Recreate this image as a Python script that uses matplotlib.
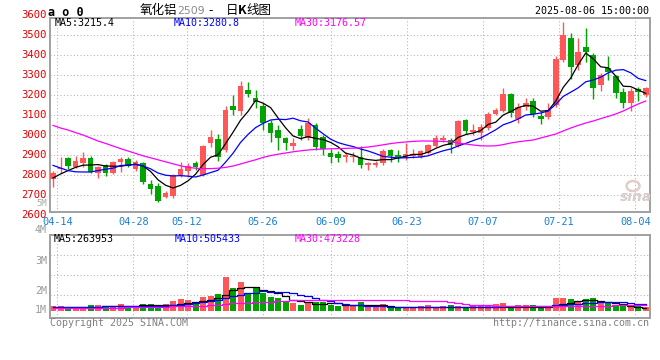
import matplotlib
matplotlib.use("Agg")
import matplotlib.pyplot as plt
from matplotlib.patches import Ellipse

W, H = 660, 360

# ao2509 daily bars 2025-04-11 .. 2025-08-06
OPEN = [2778, 2828, 2883, 2842, 2862, 2883, 2812, 2850, 2808, 2867,
        2880, 2830, 2862, 2755, 2745, 2688, 2695, 2800, 2822, 2858,
        2800, 2958, 2980, 2925, 3147, 3120, 3225, 3183, 3145, 3058,
        3025, 2983, 2945, 3028, 2985, 3050, 2988, 2912, 2905, 2888,
        2888, 2888, 2848, 2852, 2858, 2925, 2900, 2883, 2895, 2892,
        2912, 2947, 2975, 2975, 2947, 3075, 3017, 3012, 3033, 3105,
        3122, 3205, 3078, 3138, 3170, 3097, 3088, 3150, 3375, 3483,
        3350, 3438, 3400, 3250, 3337, 3295, 3217, 3158, 3228, 3200]
HIGH = [2820, 2890, 2888, 2895, 2917, 2897, 2845, 2855, 2870, 2892,
        2890, 2875, 2867, 2775, 2758, 2720, 2805, 2865, 2860, 2870,
        2950, 3025, 3005, 3145, 3200, 3272, 3267, 3225, 3162, 3075,
        3050, 2992, 2983, 3050, 3083, 3058, 3000, 2928, 2922, 2917,
        2917, 2945, 2867, 2872, 2928, 2928, 2925, 2958, 2928, 2925,
        2955, 3000, 3000, 2983, 3075, 3078, 3055, 3055, 3113, 3137,
        3233, 3212, 3158, 3183, 3183, 3117, 3158, 3395, 3567, 3512,
        3483, 3533, 3408, 3308, 3395, 3300, 3233, 3233, 3242, 3242]
LOW = [2742, 2808, 2830, 2833, 2838, 2808, 2787, 2795, 2805, 2817,
       2840, 2820, 2755, 2705, 2665, 2683, 2683, 2792, 2790, 2825,
       2795, 2938, 2872, 2917, 3100, 3100, 3192, 3135, 3025, 2967,
       2925, 2925, 2925, 2975, 2975, 2925, 2900, 2858, 2867, 2867,
       2867, 2833, 2825, 2838, 2850, 2867, 2867, 2875, 2883, 2883,
       2905, 2942, 2967, 2908, 2942, 3005, 3000, 2975, 3025, 3100,
       3117, 3088, 3058, 3125, 3092, 3055, 3078, 3140, 3367, 3278,
       3325, 3367, 3180, 3222, 3275, 3183, 3133, 3122, 3172, 3188]
CLOSE = [2812, 2835, 2847, 2870, 2883, 2817, 2842, 2812, 2867, 2880,
         2845, 2867, 2767, 2730, 2672, 2708, 2800, 2830, 2845, 2838,
         2945, 2988, 2888, 3125, 3125, 3245, 3205, 3163, 3058, 3012,
         2985, 2962, 2958, 2995, 3062, 2940, 2928, 2892, 2883, 2900,
         2895, 2850, 2858, 2862, 2922, 2895, 2888, 2905, 2905, 2920,
         2950, 2983, 2983, 2950, 3072, 3022, 3025, 3042, 3105, 3125,
         3205, 3108, 3142, 3158, 3105, 3080, 3125, 3378, 3500, 3342,
         3417, 3413, 3233, 3300, 3317, 3212, 3158, 3222, 3217, 3233]

MA5 = [2785, 2805, 2822, 2838, 2849, 2850, 2852, 2845, 2844, 2844,
       2849, 2854, 2845, 2818, 2776, 2749, 2735, 2748, 2771, 2804,
       2852, 2889, 2901, 2957, 3014, 3074, 3118, 3173, 3159, 3137,
       3085, 3036, 2995, 2982, 2992, 2983, 2977, 2963, 2941, 2909,
       2900, 2884, 2877, 2873, 2877, 2877, 2885, 2894, 2903, 2903,
       2914, 2933, 2948, 2957, 2988, 3002, 3010, 3022, 3053, 3064,
       3100, 3117, 3137, 3148, 3144, 3119, 3122, 3169, 3238, 3285,
       3352, 3410, 3381, 3341, 3336, 3295, 3244, 3242, 3225, 3208]
MA10 = [2848, 2835, 2822, 2816, 2815, 2815, 2822, 2829, 2834, 2847,
        2850, 2853, 2845, 2831, 2810, 2799, 2795, 2797, 2794, 2790,
        2800, 2812, 2824, 2864, 2909, 2963, 3003, 3037, 3058, 3075,
        3079, 3077, 3084, 3071, 3065, 3034, 3006, 2979, 2962, 2951,
        2942, 2930, 2920, 2907, 2893, 2889, 2885, 2886, 2888, 2890,
        2896, 2909, 2921, 2930, 2945, 2958, 2972, 2985, 3005, 3026,
        3051, 3064, 3080, 3100, 3104, 3110, 3120, 3153, 3193, 3214,
        3236, 3266, 3275, 3289, 3311, 3324, 3327, 3311, 3283, 3272]
MA30 = [3048, 3035, 3025, 3012, 3000, 2985, 2970, 2958, 2945, 2932,
        2920, 2908, 2896, 2886, 2876, 2866, 2856, 2846, 2838, 2834,
        2832, 2832, 2834, 2838, 2845, 2855, 2866, 2876, 2888, 2897,
        2904, 2910, 2916, 2921, 2925, 2928, 2930, 2931, 2932, 2933,
        2934, 2936, 2940, 2945, 2951, 2957, 2962, 2965, 2968, 2970,
        2970, 2969, 2968, 2966, 2960, 2955, 2950, 2946, 2945, 2946,
        2952, 2960, 2966, 2971, 2975, 2985, 2995, 3005, 3020, 3035,
        3048, 3060, 3070, 3082, 3093, 3105, 3120, 3138, 3155, 3170]

# volume, thousand lots
VOL = [313, 313, 153, 153, 153, 380, 380, 313, 313, 447,
       267, 313, 447, 447, 313, 447, 647, 780, 713, 447,
       933, 1000, 1113, 2267, 1533, 1933, 1200, 1533, 1153, 933,
       867, 647, 533, 380, 487, 600, 600, 380, 313, 380,
       313, 600, 267, 313, 447, 313, 220, 267, 220, 313,
       380, 220, 313, 380, 313, 220, 380, 380, 313, 447,
       533, 313, 380, 380, 380, 313, 313, 867, 867, 780,
       647, 780, 867, 487, 533, 380, 380, 267, 313, 220]
VOL_MA5 = [220, 220, 233, 233, 247, 253, 267, 280, 293, 307,
           313, 333, 353, 367, 373, 380, 413, 453, 520, 600,
           667, 733, 833, 1047, 1380, 1500, 1567, 1600, 1400, 1333,
           1200, 1000, 713, 633, 567, 467, 447, 533, 487, 367,
           353, 353, 353, 353, 353, 300, 220, 220, 220, 220,
           220, 220, 220, 220, 220, 220, 220, 220, 220, 220,
           267, 267, 267, 267, 267, 267, 267, 320, 433, 533,
           667, 713, 713, 633, 567, 500, 447, 320, 233, 153]
VOL_MA10 = [220, 227, 233, 247, 253, 267, 273, 287, 300, 307,
            313, 313, 313, 313, 313, 313, 347, 387, 433, 487,
            547, 633, 700, 867, 980, 1067, 1153, 1213, 1287, 1267,
            1247, 1233, 1200, 1067, 980, 833, 713, 633, 533, 447,
            400, 353, 313, 300, 280, 267, 240, 220, 220, 220,
            220, 220, 220, 220, 220, 220, 220, 220, 220, 220,
            313, 313, 313, 313, 313, 313, 313, 347, 380, 420,
            460, 487, 520, 553, 580, 580, 580, 520, 467, 420]
VOL_MA30 = [153, 160, 167, 173, 180, 187, 193, 200, 207, 213,
            220, 233, 240, 247, 260, 267, 280, 293, 307, 313,
            333, 367, 387, 420, 487, 507, 533, 553, 580, 600,
            633, 667, 713, 713, 713, 713, 713, 713, 713, 713,
            713, 713, 713, 713, 713, 713, 713, 713, 647, 647,
            647, 647, 647, 567, 533, 467, 400, 380, 380, 313,
            313, 313, 313, 313, 313, 313, 313, 313, 313, 313,
            333, 333, 333, 333, 333, 367, 367, 367, 367, 367]

DATE_LABELS = ["04-14", "04-28", "05-12", "05-26", "06-09",
               "06-23", "07-07", "07-21", "08-04"]
DATE_IDX = [1, 11, 18, 28, 37, 47, 57, 67, 77]
PRICE_TICKS = [2600, 2700, 2800, 2900, 3000, 3100, 3200, 3300, 3400, 3500, 3600]
PRICE_MA_TEXT = ["MA5:3215.4", "MA10:3280.8", "MA30:3176.57"]
VOL_MA_TEXT = ["MA5:263953", "MA10:505433", "MA30:473228"]

UP, DOWN = "#ff5757", "#00a300"
MA_COLORS = ["#000000", "#0000ff", "#ff00ff"]
GRID = dict(color="#b8b8b8", lw=0.8, ls=(0, (1, 2)), zorder=0)
MONO = "DejaVu Sans Mono"
CJK = ["Noto Sans CJK SC", "DejaVu Sans"]

fig = plt.figure(figsize=(W / 100, H / 100), dpi=100)


def rect(x0, y0, x1, y1):
    return [x0 / W, 1 - y1 / H, (x1 - x0) / W, (y1 - y0) / H]


def ftext(x, y, s, **kw):
    kw.setdefault("family", MONO)
    kw.setdefault("fontsize", 7.2)
    kw.setdefault("va", "center")
    fig.text(x / W, 1 - y / H, s, **kw)


idx = list(range(len(CLOSE)))
# sina's date grid runs a touch wider than the candle spacing
tick_pos = [d * 1.0136 - 0.45 for d in DATE_IDX]

ax = fig.add_axes(rect(50, 18, 649.5, 212))
axv = fig.add_axes(rect(50, 235, 649.5, 318))
for a in (ax, axv):
    a.set_xlim(-0.4, 79.5)
    a.set_xticks([])
    a.set_yticks([])
    for s in a.spines.values():
        s.set_color("#a0a0a0")
        s.set_linewidth(1.4)
    for t in tick_pos:
        a.axvline(t, **GRID)

# price panel
ax.set_ylim(2615, 3585)
for p in PRICE_TICKS[1:-1]:
    ax.axhline(p, **GRID)
colors = [UP if c >= o else DOWN for o, c in zip(OPEN, CLOSE)]
ax.vlines(idx, LOW, HIGH, colors=colors, lw=1, zorder=2)
body = [max(abs(c - o), 5) for o, c in zip(OPEN, CLOSE)]
base = [min(o, c) for o, c in zip(OPEN, CLOSE)]
ax.bar(idx, body, bottom=base, width=0.75, color=colors, lw=0, zorder=3)
for ma, col in zip((MA5, MA10, MA30), MA_COLORS):
    ax.plot(idx, ma, color=col, lw=0.9, zorder=4)

for p in PRICE_TICKS:
    ax.text(-0.005, p, str(p), transform=ax.get_yaxis_transform(),
            ha="right", va="center", color="#e00000", family=MONO,
            fontsize=7.6, clip_on=False)
for t, lab in zip(tick_pos, DATE_LABELS):
    ax.text(t, -0.05, lab, transform=ax.get_xaxis_transform(), ha="center",
            va="center", color="#1a80d4", family=MONO, fontsize=7.4, clip_on=False)

# volume panel
axv.set_ylim(-487, 5047)
for f in (0.277, 0.518, 0.759):
    axv.plot([0, 1], [f, f], transform=axv.transAxes, **GRID)
axv.bar(idx, VOL, width=0.8, color=colors, lw=0, zorder=2)
for ma, col in zip((VOL_MA5, VOL_MA10, VOL_MA30), MA_COLORS):
    axv.plot(idx, ma, color=col, lw=0.9, drawstyle="steps-mid", zorder=3)

# header / labels
ftext(48, 12, "a o 0", fontweight="bold", fontsize=8.5)
ftext(140, 10.5, "氧化铝", family=CJK, fontsize=9)
ftext(177, 11.5, "2509", family="DejaVu Sans", fontsize=7.8, color="#8a8a8a")
ftext(208, 10.5, "-", family=CJK, fontsize=9)
ftext(226, 10.5, "日", family=CJK, fontsize=9)
ftext(238, 10.5, "K", family=CJK, fontsize=9, fontweight="bold")
ftext(246, 10.5, "线图", family=CJK, fontsize=9)
ftext(649, 11.5, "2025-08-06 15:00:00", ha="right")

for x, s, col in zip((55, 174, 295), PRICE_MA_TEXT, MA_COLORS):
    ftext(x, 23.5, s, color=col)
for x, s, col in zip((54, 175, 295), VOL_MA_TEXT, MA_COLORS):
    ftext(x, 239.5, s, color=col)

ftext(47, 204, "5M", ha="right", color="#a8a8a8", fontsize=6.4)
for y, s in zip((230.5, 261, 291, 310), ("4M", "3M", "2M", "1M")):
    ftext(47, y, s, ha="right", color="#9a9a9a", fontsize=7.2)

# sina watermark
fig.patches.append(Ellipse((633 / W, 1 - 186 / H), 13 / W, 10 / H,
                           transform=fig.transFigure, fill=False,
                           ec="#e2cccc", lw=1.8))
ftext(636, 197, "sina", family="DejaVu Sans", fontsize=10, fontweight="bold",
      style="italic", color="#d8cccc", ha="center")
ftext(50, 323.5, "Copyright 2025 SINA.COM", color="#808080")
ftext(649, 323.5, "http://finance.sina.com.cn", ha="right", color="#808080")

fig.savefig("out.png", dpi=100)
